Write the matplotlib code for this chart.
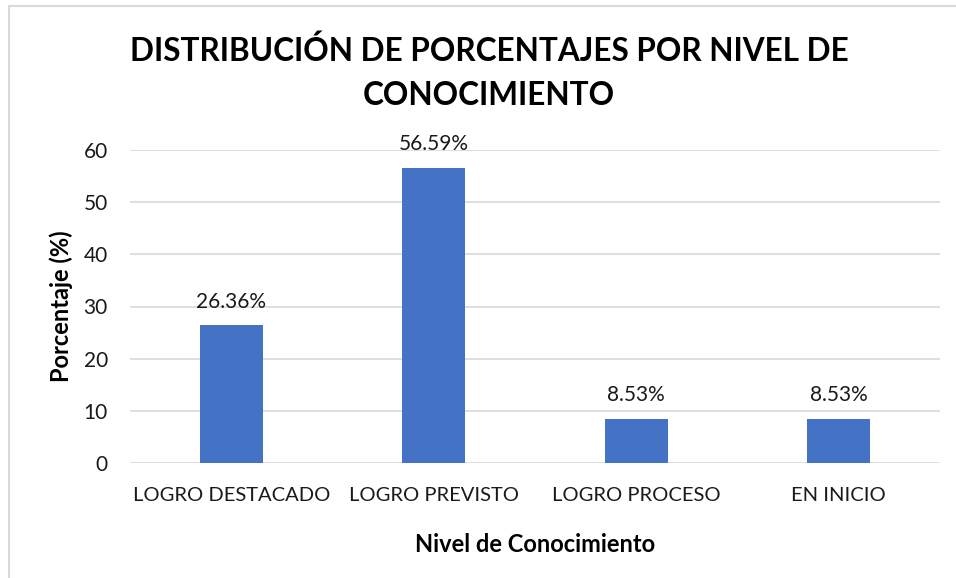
import matplotlib.pyplot as plt
from matplotlib.lines import Line2D

categorias = ['LOGRO DESTACADO', 'LOGRO PREVISTO', 'LOGRO PROCESO', 'EN INICIO']
porcentajes = [26.36, 56.59, 8.53, 8.53]
etiquetas = ['26.36%', '56.59%', '8.53%', '8.53%']
y_ticks = [0, 10, 20, 30, 40, 50, 60]

plt.rcParams['font.family'] = ['Lato', 'DejaVu Sans']

W, H = 956, 578
fig = plt.figure(figsize=(W / 100, H / 100), dpi=100)

# chart frame, only the left and top edges show in the screenshot
fig.lines.append(Line2D([9 / W, 9 / W], [0, 1 - 6 / H], transform=fig.transFigure,
                        color='#D9D9D9', linewidth=1.5))
fig.lines.append(Line2D([9 / W, 1], [1 - 6 / H, 1 - 6 / H], transform=fig.transFigure,
                        color='#D9D9D9', linewidth=1.5))

ax = fig.add_axes([130 / W, 1 - 463 / H, 810 / W, 313 / H])
x = list(range(len(categorias)))
ax.bar(x, porcentajes, width=0.31, color='#4472C4', zorder=3)

for xi, v, lab in zip(x, porcentajes, etiquetas):
    ax.annotate(lab, (xi, v), xytext=(0, 10), textcoords='offset points',
                ha='center', va='bottom', fontsize=15, color='#1a1a1a')

ax.set_xlim(-0.5, len(categorias) - 0.5)
ax.set_ylim(0, 60)
ax.set_yticks(y_ticks)
ax.set_xticks(x)
ax.set_xticklabels(categorias)
ax.tick_params(axis='both', length=0, colors='#1a1a1a')
ax.tick_params(axis='y', pad=16, labelsize=15)
ax.tick_params(axis='x', pad=17.5, labelsize=14.5)
ax.grid(axis='y', color='#D9D9D9', linewidth=1.2, zorder=0)
for s in ax.spines.values():
    s.set_visible(False)

ax.set_ylabel('Porcentaje (%)', fontsize=17, fontweight='bold')
ax.yaxis.set_label_coords(-0.07, 0.5)
ax.set_xlabel('Nivel de Conocimiento', fontsize=17, fontweight='bold')
ax.xaxis.set_label_coords(0.5, -0.225)

fig.text(489 / W, 1 - 73 / H, 'DISTRIBUCIÓN DE PORCENTAJES POR NIVEL DE\nCONOCIMIENTO',
         ha='center', va='center', fontsize=22.7, fontweight='bold',
         linespacing=1.62, color='black')

fig.savefig('out.png', dpi=100)
